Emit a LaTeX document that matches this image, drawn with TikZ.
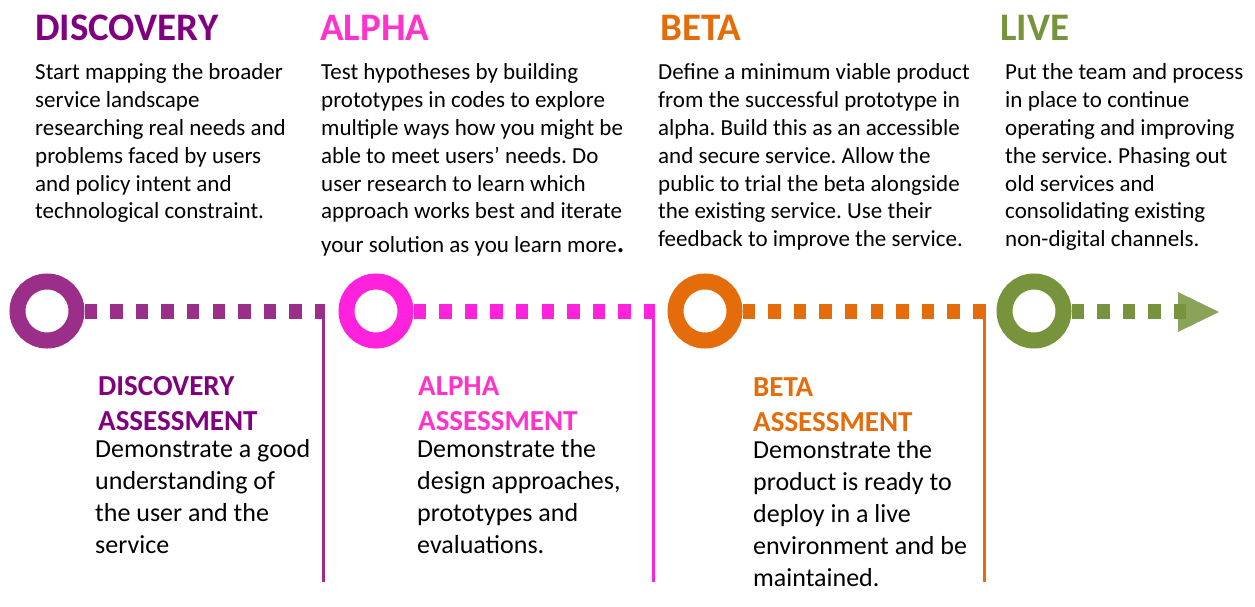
\documentclass[tikz,border=0pt]{standalone}
\usepackage{fontspec}
\setmainfont{Carlito}
\frenchspacing
\definecolor{discT}{HTML}{800080}
\definecolor{discR}{HTML}{9A2E88}
\definecolor{alphT}{HTML}{FF33CC}
\definecolor{alphR}{HTML}{FF22DD}
\definecolor{betaC}{HTML}{E46C0A}
\definecolor{liveC}{HTML}{77933C}
\begin{document}
\begin{tikzpicture}[x=1pt,y=-1pt,
  ring/.style={circle, draw=#1, line width=16pt, minimum size=59pt, inner sep=0pt},
  dashline/.style={draw=#1, line width=15pt, dash pattern=on 12.5pt off 13.1pt},
  stem/.style={draw=#1, line width=3pt},
  ttl/.style={anchor=base west, inner sep=0pt, text=#1, font=\fontsize{39}{47}\selectfont\bfseries},
  txt/.style={anchor=base west, inner sep=0pt, text=black},
  atl/.style={anchor=base west, inner sep=0pt, text=#1},
]
\useasboundingbox (0,0) rectangle (1255,607);

% rings
\node[ring=discR] (d) at (47,311) {};
\node[ring=alphR] (a) at (376,311) {};
\node[ring=betaC] (b) at (705,311) {};
\node[ring=liveC] (l) at (1034,311) {};

% stems
\coordinate (dtop) at (323.5,303.5);
\coordinate (dbot) at (323.5,582);
\coordinate (atop) at (653.5,303.5);
\coordinate (abot) at (653.5,582);
\coordinate (btop) at (984,303.5);
\coordinate (bbot) at (984,582);
\coordinate (dend) at (325,311);
\coordinate (aend) at (655,311);
\coordinate (bend) at (985.5,311);
\coordinate (lend) at (1190,311);

\draw[dashline=discR] (d.east) -- (dend);
\draw[dashline=alphR] (a.east) -- (aend);
\draw[dashline=betaC] (b.east) -- (bend);
\draw[dashline=liveC] (l.east) -- (lend);

\draw[stem=discR] (dtop) -- (dbot);
\draw[stem=alphR] (atop) -- (abot);
\draw[stem=betaC] (btop) -- (bbot);

% arrow head
\coordinate (at1) at (1178,292);
\coordinate (at2) at (1219,312);
\coordinate (at3) at (1178,332);
\fill[liveC, fill opacity=0.85] (at1) -- (at2) -- (at3) -- cycle;

% top titles
\node[ttl=discT] (t1) at (35,41) {DISCOVERY};
\node[ttl=alphT] (t2) at (320,41) {ALPHA};
\node[ttl=betaC] (t3) at (660,41) {BETA};
\node[ttl=liveC] (t4) at (1000,41) {LIVE};

% top bodies
\node[txt] (b1) at (35,80) {\parbox[t]{300pt}{\raggedright\fontsize{23}{27.8}\selectfont
Start mapping the broader\\
service landscape\\
researching real needs and\\
problems faced by users\\
and policy intent and\\
technological constraint.}};
\node[txt] (b2) at (321,80) {\parbox[t]{320pt}{\raggedright\fontsize{23}{27.8}\selectfont
Test hypotheses by building\\
prototypes in codes to explore\\
multiple ways how you might be\\
able to meet users’ needs. Do\\
user research to learn which\\
approach works best and iterate\\[6.2pt]
your solution as you learn more{\fontsize{28}{30}\selectfont\bfseries .}}};
\node[txt] (b3) at (658,80) {\parbox[t]{330pt}{\raggedright\fontsize{23}{27.8}\selectfont
Define a minimum viable product\\
from the successful prototype in\\
alpha. Build this as an accessible\\
and secure service. Allow the\\
public to trial the beta alongside\\
the existing service. Use their\\
feedback to improve the service.}};
\node[txt] (b4) at (1005,80) {\parbox[t]{300pt}{\raggedright\fontsize{23}{27.8}\selectfont
Put the team and process\\
in place to continue\\
operating and improving\\
the service. Phasing out\\
old services and\\
consolidating existing\\
non-digital channels.}};

% assessments
\node[atl=discT] (s1) at (98,395) {\parbox[t]{300pt}{\raggedright\fontsize{29}{35}\selectfont\bfseries
DISCOVERY\\ASSESSMENT}};
\node[atl=alphT] (s2) at (418,395) {\parbox[t]{300pt}{\raggedright\fontsize{29}{35}\selectfont\bfseries
ALPHA\\ASSESSMENT}};
\node[atl=betaC] (s3) at (753,396) {\parbox[t]{300pt}{\raggedright\fontsize{29}{35}\selectfont\bfseries
BETA\\ASSESSMENT}};

\node[txt] (p1) at (95,457) {\parbox[t]{300pt}{\raggedright\fontsize{26}{32}\selectfont
Demonstrate a good\\
understanding of\\
the user and the\\
service}};
\node[txt] (p2) at (417,457) {\parbox[t]{300pt}{\raggedright\fontsize{26}{32}\selectfont
Demonstrate the\\
design approaches,\\
prototypes and\\
evaluations.}};
\node[txt] (p3) at (753,458) {\parbox[t]{300pt}{\raggedright\fontsize{26}{32}\selectfont
Demonstrate the\\
product is ready to\\
deploy in a live\\
environment and be\\
maintained.}};
\end{tikzpicture}
\end{document}
